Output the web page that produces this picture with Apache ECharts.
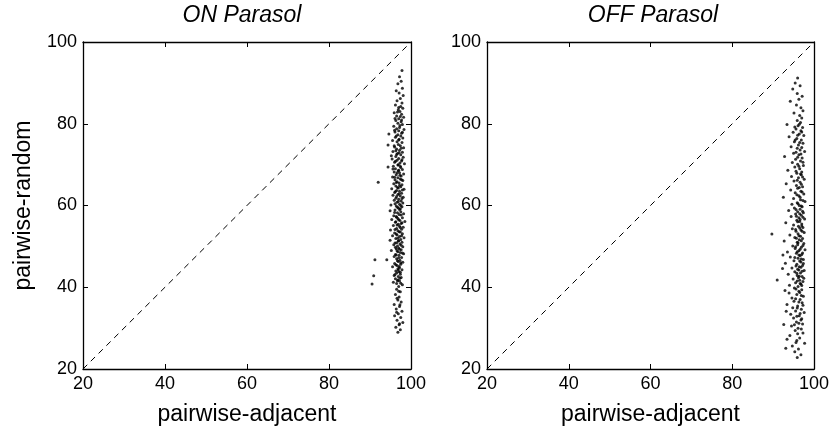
<!DOCTYPE html>
<html>
<head>
<meta charset="utf-8">
<script src="https://cdn.jsdelivr.net/npm/echarts@6/dist/echarts.min.js"></script>
<style>html,body{margin:0;padding:0;background:#fff}#c{width:834px;height:435px}</style>
</head>
<body>
<div id="c"></div>
<script>
const titles = ['ON Parasol', 'OFF Parasol'];
const xName = 'pairwise-adjacent';
const yName = 'pairwise-random';
const axisMin = 20, axisMax = 100, axisStep = 20;
const diagonal = [[20, 20], [100, 100]];

const onParasol = [
[97.8,93],[97.2,91.5],[97.6,90.4],[96.8,89.8],[97.9,88.7],[96.4,88.1],[97.1,87.5],[98.1,86.9],[97.4,86.2],[96.6,85.6],[97.8,85.1],
[96.2,84.6],[97.5,84.2],[98.0,83.8],[96.9,83.4],[97.3,83.0],[95.9,82.7],[97.7,82.3],[96.5,81.9],[98.2,81.6],[97.0,81.2],[96.3,80.8],[97.6,80.5],[96.8,80.1],[97.9,79.8],
[95.8,79.4],[97.2,79.1],[96.5,78.8],[98.3,78.6],[97.0,78.3],[96.1,78.0],[97.7,77.7],
[94.6,77.5],[96.8,77.3],[97.5,77.0],[96.2,76.7],[98.0,76.5],[97.1,76.2],[95.5,75.9],[96.6,75.6],[97.8,75.4],
[94.4,74.8],[96.9,74.9],[97.4,74.6],[96.0,74.3],[98.2,74.1],[96.5,73.8],[97.2,73.5],[95.6,73.2],[97.9,73.0],[96.7,72.7],[97.5,72.4],
[95.2,72.2],[96.3,72.0],[98.1,71.8],[97.0,71.5],[95.4,71.4],[96.6,71.1],[97.7,70.9],[96.0,70.6],[97.3,70.4],[98.4,70.2],[96.8,69.9],
[94.4,69.4],[95.7,69.6],[97.5,69.3],[96.2,69.0],[97.9,68.8],[96.9,68.5],[95.9,68.2],[97.2,68.0],[98.2,67.7],[96.4,67.5],[97.6,67.2],[95.5,67.0],
[96.8,66.8],[97.4,66.5],[96.1,66.3],[98.0,66.1],[92.0,65.7],[96.6,65.8],[97.1,65.5],[95.8,65.3],[97.8,65.1],[96.3,64.8],[97.5,64.6],[96.9,64.3],
[95.3,64.1],[98.3,64.0],[96.5,63.7],[97.2,63.5],[96.0,63.2],[97.7,63.0],[96.8,62.7],[95.6,62.5],[97.4,62.3],[98.1,62.0],[96.3,61.8],[97.0,61.5],
[95.9,61.3],[97.6,61.1],[96.6,60.8],[98.0,60.6],[97.2,60.3],[95.1,60.1],[96.4,59.9],[97.8,59.7],[96.9,59.4],[97.4,59.2],[96.1,58.9],
[94.9,58.7],[97.5,58.5],[96.7,58.2],[98.2,58.0],[97.1,57.8],[95.8,57.5],[96.4,57.3],[97.9,57.0],[96.8,56.8],[95.3,56.6],[97.3,56.3],[98.5,56.1],
[96.2,55.9],[97.6,55.6],[96.9,55.4],[95.7,55.1],[97.2,54.9],[98.1,54.7],[96.5,54.4],[97.7,54.2],[95.0,54.0],[96.8,53.8],[97.4,53.5],[96.0,53.3],
[97.9,53.1],[96.6,52.8],[95.5,52.6],[97.2,52.4],[98.3,52.1],[96.3,51.9],[97.5,51.7],[94.9,51.5],[96.9,51.3],[97.8,51.0],[96.1,50.8],
[97.3,50.6],[95.8,50.4],[96.7,50.1],[98.0,49.9],[97.0,49.6],[96.4,49.4],[97.6,49.2],[95.2,49.0],[96.8,48.7],[97.4,48.5],[98.2,48.2],
[96.2,48.0],[97.1,47.8],[95.9,47.5],[97.7,47.3],[96.5,47.0],[94.1,46.7],[91.2,46.7],[97.3,46.6],[96.9,46.3],[98.0,46.1],[96.0,45.8],[97.5,45.6],
[96.6,45.3],[95.5,45.0],[97.2,44.8],[96.8,44.5],[97.8,44.3],[96.3,44.0],[97.0,43.8],[90.9,42.8],[96.5,43.5],[97.4,43.2],[95.9,42.9],[96.9,42.6],
[97.6,42.4],[96.2,42.1],[90.5,40.8],[96.8,41.8],[97.2,41.5],[95.7,41.2],[96.5,40.9],[97.9,40.6],[97.0,40.2],
[96.5,39.5],[97.4,38.9],[96.2,38.2],[97.1,37.6],[96.8,36.9],[97.6,36.4],[95.9,35.8],[97.2,35.3],[96.4,34.7],[97.8,34.1],[96.9,33.5],[96.0,33.0],[97.5,32.6],[96.6,31.9],[98.0,31.4],[97.1,30.8],[96.3,30.2],[97.4,29.6],[96.8,29.0],
[97.3,79.6],[96.0,78.4],[97.9,77.9],[96.4,77.0],[97.0,76.0],[95.9,74.6],[97.6,74.0],[96.3,73.4],[97.1,72.9],[96.5,72.5],[97.8,71.2],[96.2,70.8],[96.9,70.0],[97.4,69.6],[95.6,68.9],[97.0,68.6],[96.6,68.0],[97.3,67.4],[96.0,66.9],[97.7,66.3],[96.4,65.6],[97.2,64.9],[96.7,64.4],[97.9,63.8],[96.2,63.4],[97.1,62.9],[96.5,62.2],[97.8,61.7],[96.9,61.0],[96.1,60.4],[97.5,60.0],[96.7,59.6],[97.2,59.0],[96.0,58.3],[97.6,57.7],[96.5,57.1],[97.0,56.5],[96.3,56.0],[97.8,55.8],[96.6,55.2],[97.4,54.6],[96.1,54.1],[97.1,53.6],[96.4,53.0],[97.7,52.6],[96.8,52.0],[97.0,51.4],[96.5,50.9],[97.6,50.3],[96.2,49.8],[97.2,49.3],[96.6,48.9],[97.9,48.4],[96.4,47.9],[97.0,47.2],[96.7,46.5],[97.5,46.0],[96.3,45.5],[97.1,45.1],[96.9,44.2],[97.4,43.7],[96.1,43.1],[97.3,42.2],[96.7,41.6],[97.5,41.0],
[97.0,84.0],[96.7,82.9],[97.4,81.8],[96.1,81.3],[97.7,80.9],[97.0,39.0],[96.6,37.3],[97.3,35.7],[96.5,33.9],[97.2,31.1]
];

const offParasol = [
[96.0,91.2],[95.4,90.0],[96.6,89.3],[94.8,88.5],[95.9,87.4],[97.1,86.7],[96.3,86.0],[94.2,85.5],[95.7,84.6],[96.8,83.9],[97.3,83.2],[95.1,82.6],[96.5,82.0],[97.0,81.4],[95.9,80.8],[96.7,80.3],
[93.4,79.8],[96.1,79.5],[97.2,79.1],[95.6,78.7],[96.8,78.3],[94.9,77.9],[96.4,77.5],[97.5,77.1],[93.9,76.8],[95.8,76.4],[96.9,76.0],[95.2,75.6],[97.3,75.2],[96.2,74.8],[94.4,74.4],[95.9,74.0],[96.6,73.6],[97.7,73.2],[95.0,72.8],[96.3,72.4],[92.8,72.0],[97.1,71.6],[95.5,71.3],[96.7,70.9],[94.7,70.5],[96.0,70.1],[97.4,69.8],[95.3,69.4],[96.5,69.0],[93.6,68.6],[97.0,68.2],[95.8,67.9],[96.9,67.5],[94.5,67.1],[96.2,66.8],[97.6,66.4],[95.1,66.0],[96.6,65.7],[93.2,65.3],[95.7,64.9],[97.2,64.6],[96.0,64.2],[94.3,63.8],[96.8,63.5],[95.4,63.1],[97.5,62.8],[96.3,62.4],[92.5,62.0],[95.0,61.7],[96.7,61.4],[97.8,61.0],[95.9,60.7],[94.6,60.3],[96.4,60.0],
[97.1,59.7],[95.2,59.4],[96.6,59.1],[93.8,58.8],[96.0,58.5],[97.4,58.2],[95.5,57.9],[96.9,57.6],[94.4,57.3],[96.3,57.0],[97.7,56.7],[95.8,56.4],[96.5,56.1],[93.1,55.8],[97.0,55.5],[95.0,55.2],[96.2,54.9],[97.3,54.6],[94.7,54.3],[96.8,54.0],[95.6,53.7],[89.7,53.0],[97.6,53.4],[96.1,53.1],[94.1,52.8],[96.7,52.5],[95.3,52.2],[97.2,51.9],[96.4,51.6],[92.7,51.3],[95.9,51.0],[97.5,50.7],[96.0,50.4],[94.8,50.1],[96.9,49.8],[95.4,49.5],[97.8,49.2],[96.3,48.9],[93.5,48.6],[95.7,48.3],[97.0,48.0],[96.6,47.7],[94.2,47.4],[96.1,47.1],[97.4,46.8],[95.1,46.5],[96.8,46.2],[93.0,45.9],[95.8,45.6],[97.2,45.3],[96.4,45.0],[94.6,44.7],[96.0,44.4],[97.6,44.1],[95.3,43.8],[96.7,43.5],[93.7,43.2],[95.9,42.9],[97.1,42.6],[96.2,42.3],[91.0,41.8],[94.9,42.0],[96.5,41.7],[97.3,41.4],[95.5,41.1],[96.8,40.8],[94.0,40.5],[96.1,40.2],
[95.2,39.8],[97.0,39.4],[96.3,39.0],[93.9,38.6],[95.8,38.2],[97.4,37.8],[94.6,37.4],[96.6,37.0],[95.1,36.6],[97.1,36.2],[93.4,35.8],[96.0,35.4],[94.8,35.0],[96.9,34.6],[95.5,34.2],[97.6,33.8],[94.3,33.4],[96.4,33.0],[95.0,32.5],[96.8,32.0],[95.7,31.5],[97.2,31.0],[94.5,30.5],[96.1,30.0],[95.4,29.4],[97.3,28.8],[94.1,28.2],[96.5,27.6],[95.8,27.0],[97.7,26.3],[94.7,25.6],[96.2,24.9],[95.3,24.2],[96.8,23.5],[95.9,22.8],
[96.4,79.9],[95.3,79.2],[97.0,78.0],[96.0,77.2],[95.4,76.0],[96.5,75.4],[97.0,74.2],[95.6,73.0],[96.8,72.6],[96.0,71.8],[97.3,70.6],[96.3,69.6],[95.6,68.4],[96.7,67.7],[97.2,67.0],[95.9,66.2],[96.9,65.2],[96.4,64.4],[97.1,63.3],[95.8,62.6],[96.6,62.0],[97.3,61.2],[96.1,60.4],[96.9,59.9],[95.6,59.0],[97.2,58.6],[96.5,58.0],[95.7,57.4],[97.3,57.1],[96.6,56.6],[96.0,56.0],[97.0,55.0],[96.5,54.5],[95.5,54.1],[97.1,53.7],[96.3,52.6],[95.7,52.0],[96.9,51.4],[96.1,50.9],[97.3,50.2],[95.5,49.9],[96.6,49.3],[95.9,48.7],[97.2,48.4],[96.3,47.9],[95.3,47.3],[96.9,46.9],[96.5,46.4],[97.4,45.8],[95.6,45.2],[96.8,44.9],[96.3,44.2],[97.1,43.9],[95.8,43.4],[96.4,42.7],[97.5,42.2],[95.9,41.5],[96.6,40.9],[97.0,40.4],[95.6,39.6],[96.5,38.7],[96.9,38.0],[95.5,37.2],[96.3,36.4],[97.3,35.6],[95.9,34.9],[96.6,33.6],[95.8,32.9],[97.0,32.3],[96.3,31.2],[95.2,30.8],[96.9,29.8],[96.0,28.6],[95.6,26.5],
[92.3,44.6],[92.9,39.2],[93.2,34.1],[92.6,30.9],[93.4,27.3],[92.4,47.9],[93.1,25.1]
];

const FONT = 'Liberation Sans, Arial, Helvetica, sans-serif';
const lineStyle = { color: '#000', width: 1.3 };

function mkAxis(gridIndex, position, showLabel, name) {
  return {
    type: 'value', gridIndex, position,
    min: axisMin, max: axisMax, interval: axisStep,
    axisLine: { show: true, onZero: false, lineStyle },
    axisTick: { show: true, inside: true, length: 5, lineStyle: { color: '#000', width: 1 } },
    axisLabel: { show: showLabel, color: '#000', fontSize: 18, fontFamily: FONT, margin: 6 },
    splitLine: { show: false },
    name: name || '',
    nameLocation: 'middle',
    nameGap: (position === 'bottom') ? 34 : 48,
    nameTextStyle: { color: '#000', fontSize: 23, fontFamily: FONT }
  };
}

const chart = echarts.init(document.getElementById('c'), null, { renderer: 'canvas' });
chart.setOption({
  backgroundColor: '#fff',
  animation: false,
  title: [
    { text: titles[0], left: 237, top: -1, textAlign: 'center',
      textStyle: { fontSize: 23, fontStyle: 'italic', fontWeight: 'normal', color: '#000', fontFamily: FONT } },
    { text: titles[1], left: 648, top: -1, textAlign: 'center',
      textStyle: { fontSize: 23, fontStyle: 'italic', fontWeight: 'normal', color: '#000', fontFamily: FONT } }
  ],
  grid: [
    { left: 83, top: 42, width: 328, height: 327 },
    { left: 487, top: 42, width: 327, height: 327 }
  ],
  xAxis: [
    mkAxis(0, 'bottom', true, xName),
    mkAxis(0, 'top', false),
    mkAxis(1, 'bottom', true, xName),
    mkAxis(1, 'top', false)
  ],
  yAxis: [
    mkAxis(0, 'left', true, yName),
    mkAxis(0, 'right', false),
    mkAxis(1, 'left', true),
    mkAxis(1, 'right', false)
  ],
  series: [
    { type: 'line', xAxisIndex: 0, yAxisIndex: 0, data: diagonal, symbol: 'none',
      lineStyle: { color: '#000', width: 1, type: [6, 5] }, silent: true },
    { type: 'line', xAxisIndex: 2, yAxisIndex: 2, data: diagonal, symbol: 'none',
      lineStyle: { color: '#000', width: 1, type: [6, 5] }, silent: true },
    { type: 'scatter', xAxisIndex: 0, yAxisIndex: 0, data: onParasol, symbolSize: 3,
      itemStyle: { color: '#000' } },
    { type: 'scatter', xAxisIndex: 2, yAxisIndex: 2, data: offParasol, symbolSize: 3,
      itemStyle: { color: '#000' } }
  ]
});
</script>
</body>
</html>
